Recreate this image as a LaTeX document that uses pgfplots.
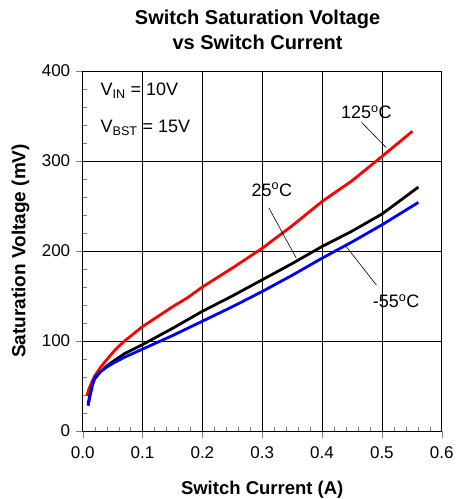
\documentclass[border=0pt]{standalone}
\usepackage{fontspec}
\setmainfont{Liberation Sans}
\usepackage{pgfplots}
\pgfplotsset{compat=1.18}
\definecolor{cred}{RGB}{255,0,0}
\definecolor{cblue}{RGB}{0,0,255}
\begin{document}
\begin{tikzpicture}
\begin{axis}[
  name=ax,
  scale only axis,
  width=359pt, height=360pt,
  xmin=0, xmax=0.6, ymin=0, ymax=400,
  xtick={0,0.1,...,0.6}, ytick={0,100,...,400},
  minor x tick num=4, minor y tick num=4,
  xticklabel style={yshift=-12pt, /pgf/number format/fixed, /pgf/number format/fixed zerofill, /pgf/number format/precision=1},
  /pgf/number format/assume math mode=true,
  tick label style={font=\fontsize{17}{19}\selectfont},
  yticklabel style={xshift=-9pt},
  xtick pos=bottom, ytick pos=left,
  tick align=inside,
  major tick length=7pt, minor tick length=4pt,
  major x tick style={yshift=-7pt},
  major y tick style={xshift=-7pt},
  grid=major,
  major grid style={black, line width=0.7pt},
  axis line style={black, line width=0.8pt},
  title={Switch Saturation Voltage\\vs Switch Current},
  title style={align=center, font=\bfseries\fontsize{20}{25}\selectfont, at={(axis description cs:0.487,1.097)}, anchor=center},
  xlabel={Switch Current (A)},
  ylabel={Saturation Voltage (mV)},
  xlabel style={font=\bfseries\fontsize{18.5}{20}\selectfont, at={(axis description cs:0.5,-0.164)}, anchor=center},
  ylabel style={font=\bfseries\fontsize{19}{20}\selectfont, at={(axis description cs:-0.173,0.5)}, anchor=center},
  clip=false,
]
\coordinate (LL) at (rel axis cs:0,0);
\coordinate (UR) at (rel axis cs:1,1);
\addplot[cred, line width=2.8pt] coordinates {
(0.007,39)(0.01,46)(0.015,54)(0.02,61)(0.03,71)(0.04,79)(0.05,87)(0.06,94)(0.07,100)(0.085,108)(0.1,116)(0.125,127)(0.15,138)(0.175,148)(0.2,160)(0.25,181)(0.3,203)(0.35,228)(0.4,255)(0.45,278)(0.5,305)(0.551,333)};
\addplot[black, line width=2.8pt] coordinates {
(0.009,30)(0.012,40)(0.016,51)(0.02,58)(0.03,66)(0.04,72)(0.05,77)(0.07,86)(0.1,96)(0.15,114)(0.2,133)(0.25,150)(0.3,168)(0.35,186)(0.4,205)(0.45,222)(0.5,241)(0.561,271)};
\addplot[cblue, line width=2.8pt] coordinates {
(0.009,28)(0.012,38)(0.016,50)(0.02,60)(0.03,66)(0.04,71)(0.05,75)(0.07,82)(0.1,91)(0.15,106)(0.2,122)(0.25,138)(0.3,155)(0.35,173)(0.4,192)(0.45,210)(0.5,229)(0.561,254)};
\draw[black, line width=0.6pt] (axis cs:0.466,343) -- (axis cs:0.507,315);
\draw[black, line width=0.6pt] (axis cs:0.311,248) -- (axis cs:0.357,192);
\draw[black, line width=0.6pt] (axis cs:0.491,162) -- (axis cs:0.438,207);
\node[font=\fontsize{18}{20}\selectfont] at (axis cs:0.474,354) {125\textsuperscript{o}C};
\node[font=\fontsize{18}{20}\selectfont] at (axis cs:0.316,268) {25\textsuperscript{o}C};
\node[font=\fontsize{18}{20}\selectfont] at (axis cs:0.524,144) {-55\textsuperscript{o}C};
\node[anchor=west, font=\fontsize{18}{20}\selectfont] at (axis cs:0.024,378) {V\textsubscript{IN} = 10V};
\node[anchor=west, font=\fontsize{18}{20}\selectfont] at (axis cs:0.024,337) {V\textsubscript{BST} = 15V};
\end{axis}
\pgfresetboundingbox
\path ([shift={(-82.7pt,-68pt)}]LL) rectangle ([shift={(14pt,71pt)}]UR);
\end{tikzpicture}
\end{document}
